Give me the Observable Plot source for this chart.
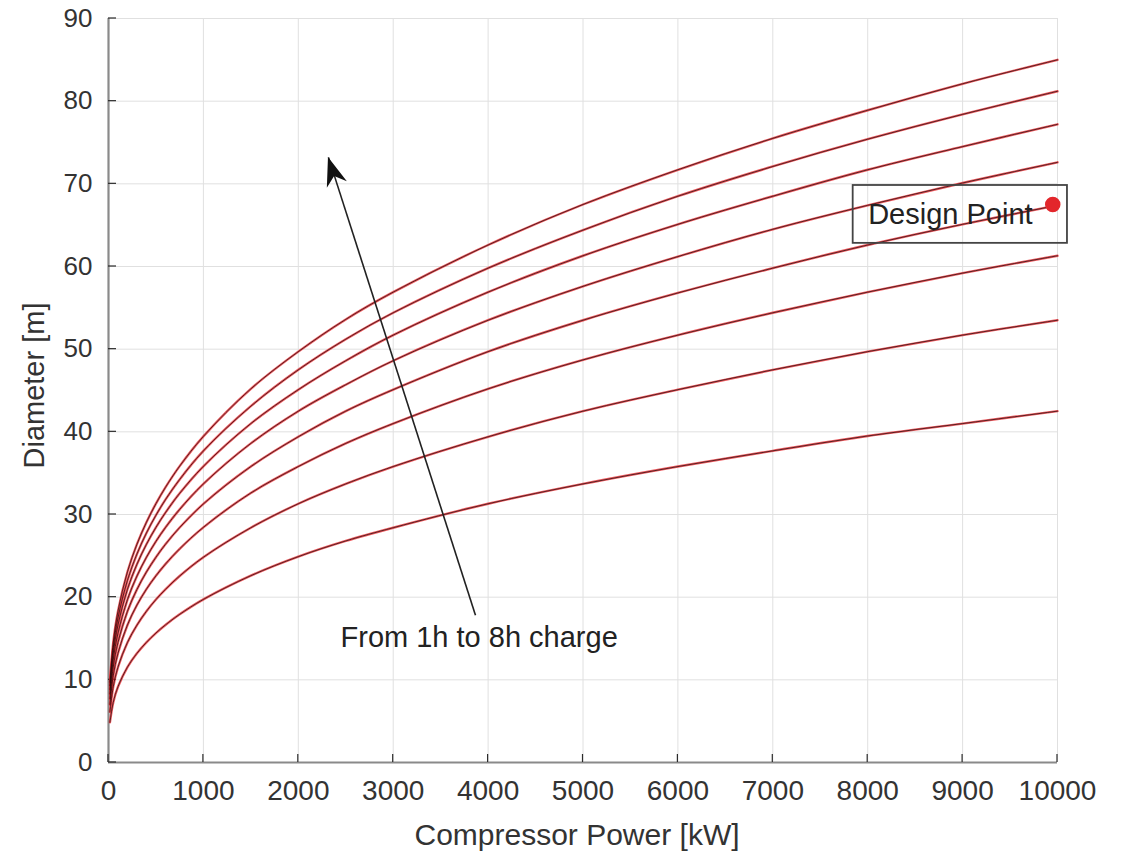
<!DOCTYPE html>
<html>
<head>
<meta charset="utf-8">
<script src="https://cdn.jsdelivr.net/npm/d3@7"></script>
<script src="https://cdn.jsdelivr.net/npm/@observablehq/plot@0.6"></script>
<style>
  body { margin: 0; background: #fff; }
  #chart svg { display: block; }
</style>
</head>
<body>
<div id="chart"></div>
<script>
// Compressor power samples [kW]
const power = [15, 50, 100, 200, 300, 400, 500, 600, 750, 1000, 1500, 2000, 2500, 3000, 4000, 5000, 6000, 7000, 8000, 9000, 10000];

// Diameter [m] for each charge duration
const d1h = [4.87, 7.27, 9.16, 11.54, 13.21, 14.54, 15.66, 16.64, 17.92, 19.73, 22.6, 24.9, 26.8, 28.4, 31.3, 33.7, 35.8, 37.7, 39.5, 41.0, 42.5];
const d2h = [6.12, 9.15, 11.53, 14.52, 16.62, 18.30, 19.71, 20.94, 22.56, 24.83, 28.4, 31.3, 33.7, 35.8, 39.4, 42.5, 45.1, 47.5, 49.7, 51.7, 53.5];
const d3h = [7.02, 10.48, 13.21, 16.64, 19.05, 20.97, 22.58, 24.00, 25.85, 28.45, 32.6, 35.8, 38.6, 41.0, 45.2, 48.7, 51.7, 54.4, 56.9, 59.2, 61.3];
const d4h = [7.72, 11.53, 14.52, 18.30, 20.94, 23.05, 24.83, 26.39, 28.42, 31.28, 35.8, 39.4, 42.5, 45.1, 49.7, 53.5, 56.8, 59.8, 62.6, 65.1, 67.4];
const d5h = [8.31, 12.42, 15.64, 19.71, 22.56, 24.83, 26.75, 28.42, 30.62, 33.70, 38.6, 42.5, 45.7, 48.6, 53.5, 57.6, 61.2, 64.5, 67.4, 70.1, 72.6];
const d6h = [8.84, 13.20, 16.63, 20.96, 23.99, 26.40, 28.44, 30.22, 32.56, 35.83, 41.0, 45.1, 48.6, 51.7, 56.9, 61.3, 65.1, 68.5, 71.7, 74.5, 77.2];
const d7h = [9.30, 13.89, 17.49, 22.04, 25.23, 27.77, 29.91, 31.79, 34.24, 37.69, 43.1, 47.5, 51.2, 54.4, 59.8, 64.4, 68.5, 72.1, 75.4, 78.4, 81.2];
const d8h = [9.73, 14.54, 18.31, 23.07, 26.41, 29.07, 31.31, 33.28, 35.85, 39.45, 45.2, 49.7, 53.6, 56.9, 62.6, 67.5, 71.7, 75.5, 78.9, 82.1, 85.0];

const chargeHours = ["1h", "2h", "3h", "4h", "5h", "6h", "7h", "8h"];
const seriesValues = [d1h, d2h, d3h, d4h, d5h, d6h, d7h, d8h];

const xTicks = [0, 1000, 2000, 3000, 4000, 5000, 6000, 7000, 8000, 9000, 10000];
const yTicks = [0, 10, 20, 30, 40, 50, 60, 70, 80, 90];

const xLabel = "Compressor Power [kW]";
const yLabel = "Diameter [m]";

// Design point and its labelled box (data space)
const designPoint = [{power: 9950, diameter: 67.5}];
const designLabel = [{power: 8005, diameter: 65.2, text: "Design Point"}];
const designBox = [{x1: 7847, x2: 10105, y1: 62.8, y2: 69.8}];

// Arrow annotation (data space)
const arrowLine = [{x1: 3867, y1: 17.8, x2: 2318, y2: 73.2}];
const arrowLabel = [{power: 2445, diameter: 14.0, text: "From 1h to 8h charge"}];

const rows = [];
chargeHours.forEach((h, i) => {
  power.forEach((p, j) => rows.push({charge: h, power: p, diameter: seriesValues[i][j]}));
});

const FONT = "'Liberation Sans', Arial, Helvetica, sans-serif";
const TEXT = "#333333";

function inwardTicks(index, scales) {
  const g = d3.create("svg:g").attr("stroke", "#2b2b2b").attr("stroke-width", 1.2);
  const x0 = scales.x(0), y0 = scales.y(0);
  for (const t of xTicks) {
    const xp = scales.x(t);
    g.append("line").attr("x1", xp).attr("x2", xp).attr("y1", y0).attr("y2", y0 - 8);
  }
  for (const t of yTicks) {
    const yp = scales.y(t);
    g.append("line").attr("x1", x0).attr("x2", x0 + 8).attr("y1", yp).attr("y2", yp);
  }
  return g.node();
}

function arrowHead(index, scales) {
  const a = arrowLine[0];
  const tx = scales.x(a.x2), ty = scales.y(a.y2);
  const sx = scales.x(a.x1), sy = scales.y(a.y1);
  const ang = Math.atan2(ty - sy, tx - sx) * 180 / Math.PI;
  const L = 29, W = 21, N = 20;
  return d3.create("svg:path")
    .attr("d", `M0,0 L${-L},${-W / 2} L${-N},0 L${-L},${W / 2} Z`)
    .attr("fill", "#111")
    .attr("transform", `translate(${tx},${ty}) rotate(${ang})`)
    .node();
}

const chart = Plot.plot({
  width: 1125,
  height: 853,
  marginLeft: 108,
  marginRight: 68,
  marginTop: 18,
  marginBottom: 91,
  style: {fontFamily: FONT, color: TEXT, background: "#fff", overflow: "visible"},
  x: {domain: [0, 10000], label: null},
  y: {domain: [0, 90], label: null},
  marks: [
    Plot.gridX(xTicks, {stroke: "#e0e0e0", strokeOpacity: 1, strokeWidth: 1}),
    Plot.gridY(yTicks, {stroke: "#e0e0e0", strokeOpacity: 1, strokeWidth: 1}),
    Plot.ruleY([0], {stroke: "#8a8a8a", strokeWidth: 2.2}),
    Plot.ruleX([0], {stroke: "#8a8a8a", strokeWidth: 2.2}),
    inwardTicks,
    Plot.axisX(xTicks, {tickSize: 0, tickPadding: 18, fontSize: 28, fill: TEXT, tickFormat: d => String(d), label: null}),
    Plot.axisY(yTicks, {tickSize: 0, tickPadding: 16, fontSize: 26, fill: TEXT, tickFormat: d => String(d), label: null}),
    Plot.line(rows, {x: "power", y: "diameter", z: "charge", stroke: "#e8232a", strokeWidth: 2.4, strokeOpacity: 0.75, curve: "catmull-rom"}),
    Plot.line(rows, {x: "power", y: "diameter", z: "charge", stroke: "#1a0808", strokeWidth: 0.9, strokeOpacity: 0.8, curve: "catmull-rom"}),
    Plot.link(arrowLine, {x1: "x1", y1: "y1", x2: "x2", y2: "y2", stroke: "#222", strokeWidth: 1.6}),
    arrowHead,
    Plot.text(arrowLabel, {x: "power", y: "diameter", text: "text", textAnchor: "start", lineAnchor: "bottom", fontSize: 29, fill: "#222"}),
    Plot.rect(designBox, {x1: "x1", x2: "x2", y1: "y1", y2: "y2", fill: "none", stroke: "#444", strokeWidth: 1.8}),
    Plot.text(designLabel, {x: "power", y: "diameter", text: "text", textAnchor: "start", lineAnchor: "bottom", fontSize: 29, fill: "#222"}),
    Plot.dot(designPoint, {x: "power", y: "diameter", r: 7, fill: "#e3262b", stroke: "#e3262b"}),
    Plot.text([xLabel], {frameAnchor: "bottom", text: d => d, textAnchor: "middle", dy: 82, dx: -6, lineAnchor: "bottom", fontSize: 30, fill: TEXT}),
    Plot.text([yLabel], {frameAnchor: "left", text: d => d, textAnchor: "middle", rotate: -90, dx: -65, dy: -5, lineAnchor: "bottom", fontSize: 29, fill: TEXT})
  ]
});
document.getElementById("chart").appendChild(chart);
</script>
</body>
</html>
